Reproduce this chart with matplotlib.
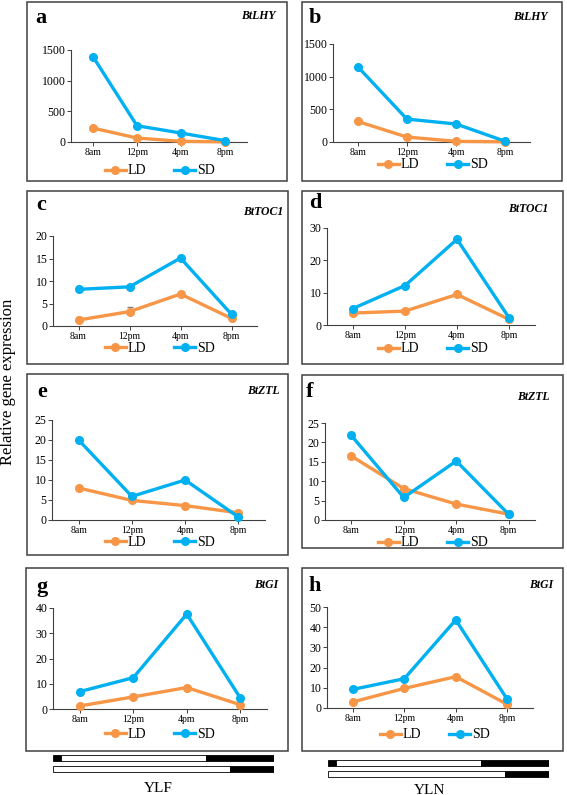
import matplotlib
matplotlib.use('Agg')
import matplotlib.pyplot as plt
from matplotlib.patches import Rectangle
from matplotlib.lines import Line2D

## Initialize
plt.rcParams['font.family'] = ['Liberation Serif', 'DejaVu Serif']
W, H = 567, 795
ld_color, sd_color = '#F79646', '#00B0F0'
fig = plt.figure(figsize=(W / 100, H / 100), dpi=100)

## Data
times = ['8am', '12pm', '4pm', '8pm']
series = ['LD', 'SD']

lhy_ylf_ld = [227, 65, 11, 3]
lhy_ylf_sd = [1391, 265, 146, 22]
lhy_yln_ld = [315, 76, 10, 3]
lhy_yln_sd = [1154, 351, 275, 10]
toc1_ylf_ld = [1.33, 3.2, 7.1, 1.7]
toc1_ylf_sd = [8.15, 8.7, 15.1, 2.6]
toc1_ylf_err = [0.7, 1.1, 0.2, 0.2]
toc1_yln_ld = [3.7, 4.3, 9.45, 1.75]
toc1_yln_sd = [5.1, 12.2, 26.5, 2.26]
ztl_ylf_ld = [8.0, 4.9, 3.6, 1.8]
ztl_ylf_sd = [20.0, 5.9, 10.0, 0.75]
ztl_yln_ld = [16.5, 8.1, 4.1, 1.5]
ztl_yln_sd = [21.8, 5.8, 15.2, 1.45]
gi_ylf_ld = [1.2, 4.8, 8.5, 1.7]
gi_ylf_sd = [6.9, 12.4, 37.6, 4.4]
gi_ylf_err = [0.2, 1.3, 0.3, 0.2]
gi_yln_ld = [3.0, 9.7, 15.5, 1.8]
gi_yln_sd = [9.2, 14.5, 43.6, 4.3]

# light regime bars (hour of day): (start, end, is_dark)
sd_light = [(6.0, 6.6, True), (6.6, 17.4, False), (17.4, 22.5, True)]
ld_light = [(6.0, 19.2, False), (19.2, 22.5, True)]

# panel: letter, gene, ld, sd, ld_err, ymax, ystep, box px, axes px, letter px, gene px, legend px
panels = [
    ('a', 'BtLHY', lhy_ylf_ld, lhy_ylf_sd, None, 1500, 500,
     (27, 2, 287, 181), (71, 50, 247, 142), (41, 18), (276, 16), (160, 171)),
    ('b', 'BtLHY', lhy_yln_ld, lhy_yln_sd, None, 1500, 500,
     (302, 2, 562, 181), (333, 44, 530, 142), (315, 18), (548, 17), (433, 165)),
    ('c', 'BtTOC1', toc1_ylf_ld, toc1_ylf_sd, toc1_ylf_err, 20, 5,
     (27, 191, 288, 364), (53, 236, 257, 326), (41, 205), (283, 212), (160, 348)),
    ('d', 'BtTOC1', toc1_yln_ld, toc1_yln_sd, None, 30, 10,
     (302, 191, 563, 364), (327, 228, 535, 325), (315, 203), (548, 209), (433, 349)),
    ('e', 'BtZTL', ztl_ylf_ld, ztl_ylf_sd, None, 25, 5,
     (27, 374, 288, 555), (52, 420, 265, 520), (42, 392), (280, 391), (160, 542)),
    ('f', 'BtZTL', ztl_yln_ld, ztl_yln_sd, None, 25, 5,
     (302, 375, 563, 548), (325, 423, 535, 520), (310, 392), (550, 397), (433, 543)),
    ('g', 'BtGI', gi_ylf_ld, gi_ylf_sd, gi_ylf_err, 40, 10,
     (26, 568, 288, 751), (53, 608, 267, 709), (42, 587), (278, 585), (160, 734)),
    ('h', 'BtGI', gi_yln_ld, gi_yln_sd, None, 50, 10,
     (302, 568, 563, 751), (327, 607, 533, 708), (315, 586), (553, 585), (435, 735)),
]


def fx(x):
    return x / W


def fy(y):
    return 1 - y / H


def px_axes(x0, y0, x1, y1):
    return fig.add_axes([fx(x0), fy(y1), (x1 - x0) / W, (y1 - y0) / H])


handles = [Line2D([], [], color=ld_color, lw=2.4, marker='o', ms=5.5),
           Line2D([], [], color=sd_color, lw=2.4, marker='o', ms=5.5)]

## Panels
for (letter, gene, ld, sd, err, ymax, ystep, box, axr, lpos, gpos, legpos) in panels:
    fig.patches.append(Rectangle((fx(box[0]), fy(box[3])), (box[2] - box[0]) / W,
                                 (box[3] - box[1]) / H, transform=fig.transFigure,
                                 fill=False, edgecolor='#404040', lw=1.1))
    ax = px_axes(*axr)
    x = range(len(times))
    if err is not None:
        ax.errorbar(x, ld, yerr=[[0] * len(err), err], fmt='none', ecolor='#808080',
                    elinewidth=0.8, capsize=2)
    ax.plot(x, ld, color=ld_color, lw=2.4, marker='o', ms=5.5, clip_on=False, zorder=3)
    ax.plot(x, sd, color=sd_color, lw=2.4, marker='o', ms=5.5, clip_on=False, zorder=4)
    ax.set_xlim(-0.5, len(times) - 0.5)
    ax.set_ylim(0, ymax)
    ax.set_yticks(range(0, ymax + 1, ystep))
    ax.set_xticks(list(x))
    ax.set_xticklabels(times, fontsize=7)
    ax.tick_params(axis='y', labelsize=8.5, length=3, width=0.7, color='#404040', pad=1)
    ax.tick_params(axis='x', length=3, width=0.7, color='#404040', pad=1.5)
    for s in ('top', 'right'):
        ax.spines[s].set_visible(False)
    for s in ('left', 'bottom'):
        ax.spines[s].set_color('#404040')
        ax.spines[s].set_linewidth(0.8)
    ax.patch.set_alpha(0)
    fig.text(fx(lpos[0]), fy(lpos[1]), letter, fontsize=16, fontweight='bold',
             ha='center', va='center')
    fig.text(fx(gpos[0]), fy(gpos[1]), gene, fontsize=8.5, fontweight='bold',
             fontstyle='italic', ha='right', va='center')
    ax.legend(handles, series, loc='center', bbox_to_anchor=(fx(legpos[0]), fy(legpos[1])),
              bbox_transform=fig.transFigure, ncol=2, frameon=False, fontsize=10,
              handlelength=1.5, handletextpad=0.15, columnspacing=2.0, borderpad=0)

## Light regime bars
for (x0, x1, y_top, y_bot, name, name_x, name_y) in [(53, 274, 754, 773, 'YLF', 158, 788),
                                                       (328, 549, 759, 778, 'YLN', 430, 790)]:
    bax = px_axes(x0, y_top, x1, y_bot)
    for row, regime in enumerate([sd_light, ld_light]):
        for (s, e, dark) in regime:
            bax.barh(row, e - s, left=s, height=0.6, color='black' if dark else 'white',
                     edgecolor='black', linewidth=0.6)
    bax.set_xlim(6.0, 22.5)
    bax.set_ylim(1.35, -0.35)
    bax.axis('off')
    fig.text(fx(name_x), fy(name_y), name, fontsize=11, ha='center', va='center')

fig.text(fx(8), fy(382), 'Relative gene expression', fontsize=12, rotation=90,
         ha='center', va='center')

plt.savefig('out.png', dpi=100)
